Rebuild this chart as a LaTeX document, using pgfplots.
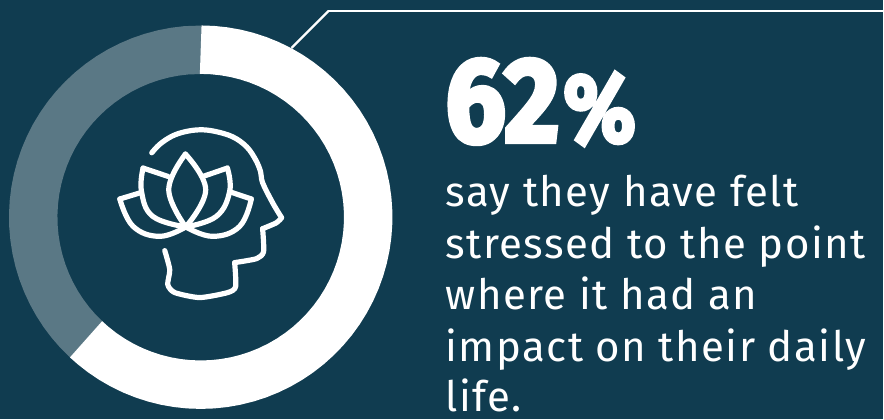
\documentclass[border=0pt]{standalone}
\usepackage{fontspec}
\usepackage{pgfplots}
\pgfplotsset{compat=1.18}
\setmainfont{Fira Sans}
\newfontfamily\bodyfont[LetterSpace=3.5]{Fira Sans}
\newfontfamily\bigfont[BoldFeatures={FakeBold=4}]{Fira Sans}
\definecolor{panel}{HTML}{103C50}
\definecolor{rest}{HTML}{5A7885}
% Share of respondents: 62 of 100, i.e. 223.2 degrees clockwise from the top
\pgfplotstableread{
angle radius
90 167.75
86 167.75
82 167.75
78 167.75
74 167.75
70 167.75
66 167.75
62 167.75
58 167.75
54 167.75
50 167.75
46 167.75
42 167.75
38 167.75
34 167.75
30 167.75
26 167.75
22 167.75
18 167.75
14 167.75
10 167.75
6 167.75
2 167.75
-2 167.75
-6 167.75
-10 167.75
-14 167.75
-18 167.75
-22 167.75
-26 167.75
-30 167.75
-34 167.75
-38 167.75
-42 167.75
-46 167.75
-50 167.75
-54 167.75
-58 167.75
-62 167.75
-66 167.75
-70 167.75
-74 167.75
-78 167.75
-82 167.75
-86 167.75
-90 167.75
-94 167.75
-98 167.75
-102 167.75
-106 167.75
-110 167.75
-114 167.75
-118 167.75
-122 167.75
-126 167.75
-130 167.75
-133.2 167.75
}\agreed
% The remainder runs slightly under the ends of the white arc so no seam shows
\pgfplotstableread{
angle radius
-132 167.75
-137 167.75
-141 167.75
-145 167.75
-149 167.75
-153 167.75
-157 167.75
-161 167.75
-165 167.75
-169 167.75
-173 167.75
-177 167.75
-181 167.75
-185 167.75
-189 167.75
-193 167.75
-197 167.75
-201 167.75
-205 167.75
-209 167.75
-213 167.75
-217 167.75
-221 167.75
-225 167.75
-229 167.75
-233 167.75
-237 167.75
-241 167.75
-245 167.75
-249 167.75
-253 167.75
-257 167.75
-261 167.75
-265 167.75
-271 167.75
}\others
\begin{document}
\begin{tikzpicture}[x=1pt,y=1pt]
\fill[panel] (0,0) rectangle (884,420);
\begin{axis}[
  at={(0,0)}, anchor=south west,
  scale only axis, width=884pt, height=420pt,
  xmin=-201, xmax=683, ymin=-202.5, ymax=217.5,
  hide axis, clip=false]
\addplot[rest, line width=48.5pt, line cap=butt, no markers, data cs=polar]
  table[x=angle,y=radius] {\others};
\addplot[white, line width=48.5pt, line cap=butt, no markers, data cs=polar]
  table[x=angle,y=radius] {\agreed};
\end{axis}
\begin{scope}[y=-1pt,yshift=420pt]
  % callout rule
  \draw[white, line width=2.2pt] (292,48) -- (329,11);
  \draw[white, line width=2.6pt] (328.5,11) -- (884,11);
  % head and lotus icon
  \begin{scope}[white, line width=5.2pt, line cap=round, line join=round]
    \draw plot[smooth, tension=.6] coordinates {(152,153) (160,144.5) (172,136.5) (185,132) (200,130) (215,131.5) (233,137) (247,147) (256,160) (261,172) (263,183) (273,203) (282,218)};
    \draw plot[smooth, tension=.5] coordinates {(282,218) (277,223) (263,229)};
    \draw plot[smooth, tension=.4] coordinates {(263,229) (264,252) (257,259) (235,263)};
    \draw plot[smooth, tension=.4] coordinates {(235,263) (236,287) (228,293) (200,298) (175,293) (168,285) (170,270) (165,251)};
    \draw plot[smooth, tension=.7] coordinates {(185.7,154.3) (169,190) (186,227.3)};
    \draw plot[smooth, tension=.7] coordinates {(185.7,154.3) (206,190) (186,227.3)};
    \draw (168.3,176.7) -- (143.3,168.3);
    \draw plot[smooth, tension=.7] coordinates {(143.3,168.3) (141.7,191.7) (153,216.7) (186,227.3)};
    \draw (203.3,176.7) -- (227.7,168.3);
    \draw plot[smooth, tension=.7] coordinates {(227.7,168.3) (230,191.7) (216.7,216.7) (186,227.3)};
    \draw (141.7,192.7) -- (120,199.3);
    \draw plot[smooth, tension=.7] coordinates {(120,199.3) (133.3,226.7) (160,236.7) (186,227.3)};
    \draw (230,192) -- (251.7,199.3);
    \draw plot[smooth, tension=.7] coordinates {(251.7,199.3) (240,226.7) (213,236.7) (186,227.3)};
  \end{scope}
  % headline figure and statement
  \node[anchor=base west, inner sep=0pt, white, xscale=.89] at (446,142)
    {\fontsize{120}{120}\selectfont\bigfont\bfseries 62};
  \node[anchor=base west, inner sep=0pt, white, xscale=.87] at (564,142)
    {\fontsize{97}{97}\selectfont\bigfont\bfseries\%};
  \begin{scope}[every node/.style={anchor=base west, inner sep=0pt, white}]
    \node at (446,207) {\fontsize{42}{42}\selectfont\bodyfont say they have felt};
    \node at (446,259) {\fontsize{42}{42}\selectfont\bodyfont stressed to the point};
    \node at (446,310) {\fontsize{42}{42}\selectfont\bodyfont where it had an};
    \node at (446,362) {\fontsize{42}{42}\selectfont\bodyfont impact on their daily};
    \node at (446,412) {\fontsize{42}{42}\selectfont\bodyfont life.};
  \end{scope}
\end{scope}
\end{tikzpicture}
\end{document}
